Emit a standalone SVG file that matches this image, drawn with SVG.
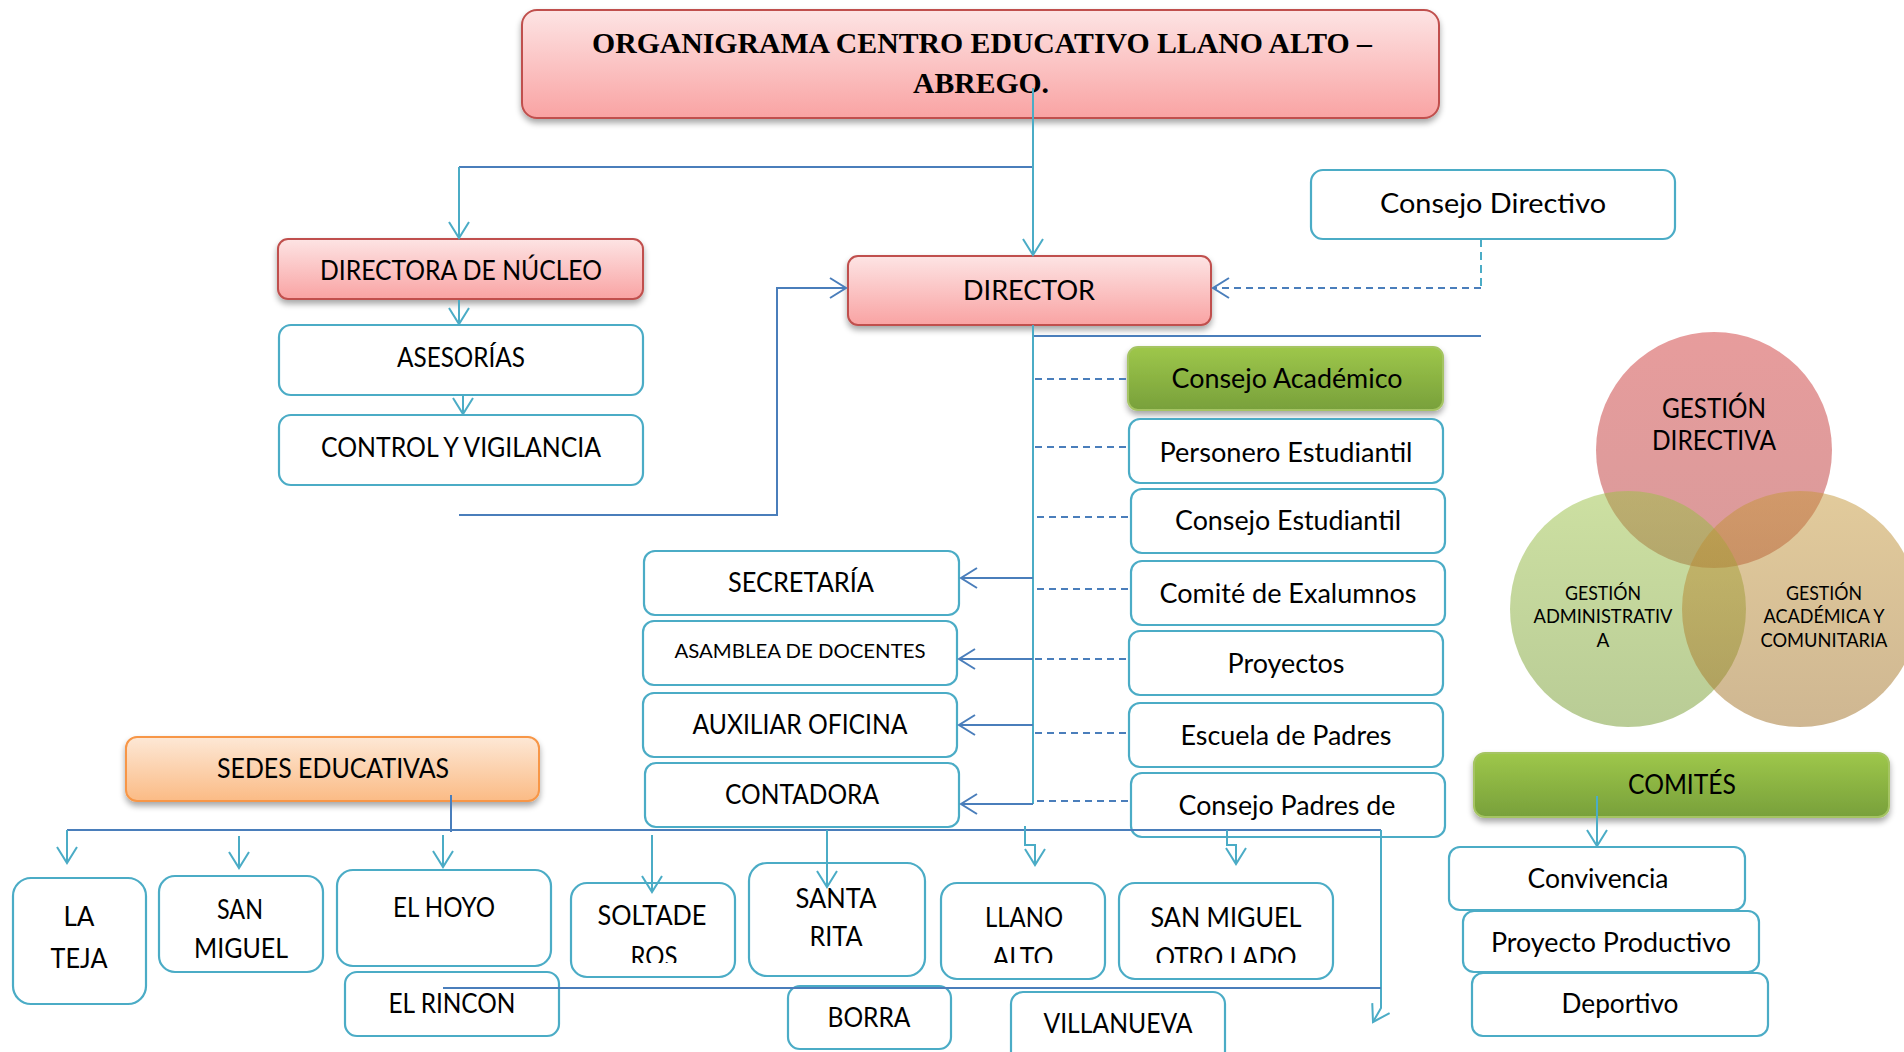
<svg xmlns="http://www.w3.org/2000/svg" width="1904" height="1052" viewBox="0 0 1904 1052">
<defs>
<style>
.t{font-family:Lato,"Open Sans","Liberation Sans",sans-serif;font-size:26px;fill:#000;text-anchor:middle}
.s{font-size:20px}
.v{font-size:19px}
.w{fill:#fff;stroke:#4bacc6;stroke-width:2.2}
.p{fill:url(#gp);stroke:#c0504d;stroke-width:2}
.g{fill:url(#gg);stroke:#a5c463;stroke-width:2}
.o{fill:url(#go);stroke:#f79646;stroke-width:2}
.lb{fill:none;stroke:#4bacc6;stroke-width:2}
.db{fill:none;stroke:#4a7ebb;stroke-width:2}
.ds{fill:none;stroke:#4a7ebb;stroke-width:2;stroke-dasharray:7 5}
.dl{fill:none;stroke:#4bacc6;stroke-width:2;stroke-dasharray:8 5}
</style>
<linearGradient id="gp" x1="0" y1="0" x2="0" y2="1"><stop offset="0" stop-color="#fde4e4"/><stop offset="1" stop-color="#f9a3a3"/></linearGradient>
<linearGradient id="gg" x1="0" y1="0" x2="0" y2="1"><stop offset="0" stop-color="#9ec74a"/><stop offset="1" stop-color="#78a03b"/></linearGradient>
<linearGradient id="go" x1="0" y1="0" x2="0" y2="1"><stop offset="0" stop-color="#fde8d6"/><stop offset="1" stop-color="#fbbb85"/></linearGradient>
<linearGradient id="cr" x1="0" y1="0" x2="0" y2="1"><stop offset="0" stop-color="#cf3a3a"/><stop offset="1" stop-color="#b43636"/></linearGradient>
<linearGradient id="cg" x1="0" y1="0" x2="0" y2="1"><stop offset="0" stop-color="#9bc145"/><stop offset="1" stop-color="#73992d"/></linearGradient>
<linearGradient id="ct" x1="0" y1="0" x2="0" y2="1"><stop offset="0" stop-color="#c59739"/><stop offset="1" stop-color="#9f6f25"/></linearGradient>
<filter id="sh" x="-10%" y="-20%" width="120%" height="160%"><feGaussianBlur in="SourceAlpha" stdDeviation="3"/><feOffset dx="0" dy="4"/><feComponentTransfer><feFuncA type="linear" slope="0.35"/></feComponentTransfer><feMerge><feMergeNode/><feMergeNode in="SourceGraphic"/></feMerge></filter>
<marker id="al" markerUnits="userSpaceOnUse" markerWidth="24" markerHeight="26" viewBox="-20 -13 24 26" refX="0" refY="0" orient="auto" overflow="visible"><path d="M-16,-10 L0,0 L-16,10" fill="none" stroke="#4bacc6" stroke-width="2"/></marker>
<marker id="ad" markerUnits="userSpaceOnUse" markerWidth="24" markerHeight="26" viewBox="-20 -13 24 26" refX="0" refY="0" orient="auto" overflow="visible"><path d="M-16,-10 L0,0 L-16,10" fill="none" stroke="#4a7ebb" stroke-width="2"/></marker>
<clipPath id="cut"><rect x="0" y="0" width="1904" height="963"/></clipPath>
</defs>
<rect width="1904" height="1052" fill="#fff"/>

<g id="venn">
<circle cx="1714" cy="450" r="118" fill="url(#cr)" fill-opacity="0.5"/>
<circle cx="1628" cy="609" r="118" fill="url(#cg)" fill-opacity="0.5"/>
<circle cx="1800" cy="609" r="118" fill="url(#ct)" fill-opacity="0.5"/>
<text class="t" x="1714" y="418" textLength="104" lengthAdjust="spacingAndGlyphs">GESTIÓN</text>
<text class="t" x="1714" y="450" textLength="124" lengthAdjust="spacingAndGlyphs">DIRECTIVA</text>
<text class="t v" x="1603" y="600" textLength="76" lengthAdjust="spacingAndGlyphs">GESTIÓN</text>
<text class="t v" x="1603" y="623" textLength="139" lengthAdjust="spacingAndGlyphs">ADMINISTRATIV</text>
<text class="t v" x="1603" y="647">A</text>
<text class="t v" x="1824" y="600" textLength="76" lengthAdjust="spacingAndGlyphs">GESTIÓN</text>
<text class="t v" x="1824" y="623" textLength="121" lengthAdjust="spacingAndGlyphs">ACADÉMICA Y</text>
<text class="t v" x="1824" y="647" textLength="127" lengthAdjust="spacingAndGlyphs">COMUNITARIA</text>
</g>

<g id="nodes">
<g id="titulo"><rect class="p" x="522" y="10" width="917" height="108" rx="15" filter="url(#sh)"/>
<text x="982" y="53" font-family="'Liberation Serif','Times New Roman',serif" font-weight="bold" font-size="30" text-anchor="middle" textLength="780" lengthAdjust="spacingAndGlyphs">ORGANIGRAMA CENTRO EDUCATIVO LLANO ALTO –</text>
<text x="981" y="93" font-family="'Liberation Serif','Times New Roman',serif" font-weight="bold" font-size="30" text-anchor="middle" textLength="136" lengthAdjust="spacingAndGlyphs">ABREGO.</text></g>

<g id="directora"><rect class="p" x="278" y="239" width="365" height="60" rx="10" filter="url(#sh)"/><text class="t" x="461" y="280" textLength="282" lengthAdjust="spacingAndGlyphs">DIRECTORA DE NÚCLEO</text></g>
<g id="asesorias"><rect class="w" x="279" y="325" width="364" height="70" rx="12"/><text class="t" x="461" y="367" textLength="128" lengthAdjust="spacingAndGlyphs">ASESORÍAS</text></g>
<g id="control"><rect class="w" x="279" y="415" width="364" height="70" rx="12"/><text class="t" x="461" y="457" textLength="280" lengthAdjust="spacingAndGlyphs">CONTROL Y VIGILANCIA</text></g>

<g id="director"><rect class="p" x="848" y="256" width="363" height="69" rx="10" filter="url(#sh)"/><text class="t" x="1029" y="300" textLength="132" lengthAdjust="spacingAndGlyphs">DIRECTOR</text></g>
<g id="consejo-directivo"><rect class="w" x="1311" y="170" width="364" height="69" rx="12"/><text class="t" x="1493" y="213" textLength="226" lengthAdjust="spacingAndGlyphs">Consejo Directivo</text></g>

<g id="consejo-academico"><rect class="g" x="1128" y="347" width="315" height="63" rx="10" filter="url(#sh)"/><text class="t" x="1287" y="388" textLength="231" lengthAdjust="spacingAndGlyphs">Consejo Académico</text></g>
<g id="personero"><rect class="w" x="1129" y="419" width="314" height="64" rx="11"/><text class="t" x="1286" y="462" textLength="253" lengthAdjust="spacingAndGlyphs">Personero Estudiantil</text></g>
<g id="consejo-estudiantil"><rect class="w" x="1131" y="489" width="314" height="64" rx="11"/><text class="t" x="1288" y="530" textLength="226" lengthAdjust="spacingAndGlyphs">Consejo Estudiantil</text></g>
<g id="exalumnos"><rect class="w" x="1131" y="561" width="314" height="64" rx="11"/><text class="t" x="1288" y="603" textLength="257" lengthAdjust="spacingAndGlyphs">Comité de Exalumnos</text></g>
<g id="proyectos"><rect class="w" x="1129" y="631" width="314" height="64" rx="11"/><text class="t" x="1286" y="673" textLength="117" lengthAdjust="spacingAndGlyphs">Proyectos</text></g>
<g id="escuela-padres"><rect class="w" x="1129" y="703" width="314" height="64" rx="11"/><text class="t" x="1286" y="745" textLength="211" lengthAdjust="spacingAndGlyphs">Escuela de Padres</text></g>
<g id="consejo-padres"><rect class="w" x="1131" y="773" width="314" height="64" rx="11"/><text class="t" x="1287" y="815" textLength="217" lengthAdjust="spacingAndGlyphs">Consejo Padres de</text></g>

<g id="secretaria"><rect class="w" x="644" y="551" width="315" height="64" rx="11"/><text class="t" x="801" y="592" textLength="146" lengthAdjust="spacingAndGlyphs">SECRETARÍA</text></g>
<g id="asamblea"><rect class="w" x="643" y="621" width="314" height="64" rx="11"/><text class="t s" x="800" y="658" textLength="251" lengthAdjust="spacingAndGlyphs">ASAMBLEA DE DOCENTES</text></g>
<g id="auxiliar"><rect class="w" x="643" y="693" width="314" height="64" rx="11"/><text class="t" x="800" y="734" textLength="215" lengthAdjust="spacingAndGlyphs">AUXILIAR OFICINA</text></g>
<g id="contadora"><rect class="w" x="645" y="763" width="314" height="64" rx="11"/><text class="t" x="802" y="804" textLength="154" lengthAdjust="spacingAndGlyphs">CONTADORA</text></g>

<g id="sedes"><rect class="o" x="126" y="737" width="413" height="64" rx="11" filter="url(#sh)"/><text class="t" x="333" y="778" textLength="232" lengthAdjust="spacingAndGlyphs">SEDES EDUCATIVAS</text></g>
<g id="la-teja"><rect class="w" x="13" y="878" width="133" height="126" rx="18"/><text class="t" font-size="28" x="79" y="926" textLength="31" lengthAdjust="spacingAndGlyphs">LA</text><text class="t" font-size="28" x="79" y="968" textLength="57" lengthAdjust="spacingAndGlyphs">TEJA</text></g>
<g id="san-miguel"><rect class="w" x="159" y="876" width="164" height="96" rx="16"/><text class="t" x="240" y="919" textLength="46" lengthAdjust="spacingAndGlyphs">SAN</text><text class="t" x="241" y="958" textLength="94" lengthAdjust="spacingAndGlyphs">MIGUEL</text></g>
<g id="el-hoyo"><rect class="w" x="337" y="870" width="214" height="96" rx="16"/><text class="t" x="444" y="917" textLength="102" lengthAdjust="spacingAndGlyphs">EL HOYO</text></g>
<g id="el-rincon"><rect class="w" x="345" y="972" width="214" height="64" rx="12"/><text class="t" x="452" y="1013" textLength="127" lengthAdjust="spacingAndGlyphs">EL RINCON</text></g>
<g id="soltaderos"><rect class="w" x="571" y="883" width="164" height="94" rx="16"/><text class="t" x="652" y="925" textLength="109" lengthAdjust="spacingAndGlyphs">SOLTADE</text><text class="t" x="654" y="966" textLength="47" lengthAdjust="spacingAndGlyphs" clip-path="url(#cut)">ROS</text></g>
<g id="santa-rita"><rect class="w" x="749" y="863" width="176" height="113" rx="18"/><text class="t" x="836" y="908" textLength="81" lengthAdjust="spacingAndGlyphs">SANTA</text><text class="t" x="836" y="946" textLength="53" lengthAdjust="spacingAndGlyphs">RITA</text></g>
<g id="llano-alto"><rect class="w" x="941" y="883" width="164" height="96" rx="16"/><text class="t" x="1024" y="927" textLength="78" lengthAdjust="spacingAndGlyphs">LLANO</text><text class="t" x="1023" y="967" textLength="61" lengthAdjust="spacingAndGlyphs" clip-path="url(#cut)">ALTO</text></g>
<g id="san-miguel-otro-lado"><rect class="w" x="1119" y="883" width="214" height="96" rx="16"/><text class="t" x="1226" y="927" textLength="151" lengthAdjust="spacingAndGlyphs">SAN MIGUEL</text><text class="t" x="1226" y="967" textLength="141" lengthAdjust="spacingAndGlyphs" clip-path="url(#cut)">OTRO LADO</text></g>
<g id="borra"><rect class="w" x="788" y="986" width="163" height="63" rx="12"/><text class="t" x="869" y="1027" textLength="83" lengthAdjust="spacingAndGlyphs">BORRA</text></g>
<g id="villanueva"><rect class="w" x="1011" y="992" width="214" height="80" rx="12"/><text class="t" x="1118" y="1033" textLength="149" lengthAdjust="spacingAndGlyphs">VILLANUEVA</text></g>

<g id="comites"><rect class="g" x="1474" y="753" width="415" height="64" rx="11" filter="url(#sh)"/><text class="t" font-size="25" x="1682" y="794" textLength="108" lengthAdjust="spacingAndGlyphs">COMITÉS</text></g>
<g id="convivencia"><rect class="w" x="1449" y="847" width="296" height="63" rx="11"/><text class="t" font-size="25" x="1598" y="888" textLength="141" lengthAdjust="spacingAndGlyphs">Convivencia</text></g>
<g id="proyecto-productivo"><rect class="w" x="1463" y="911" width="296" height="61" rx="11"/><text class="t" font-size="25" x="1611" y="952" textLength="240" lengthAdjust="spacingAndGlyphs">Proyecto Productivo</text></g>
<g id="deportivo"><rect class="w" x="1472" y="973" width="296" height="63" rx="11"/><text class="t" font-size="25" x="1620" y="1013" textLength="117" lengthAdjust="spacingAndGlyphs">Deportivo</text></g>
</g>

<g id="connectors">
<path class="db" d="M459,167 H1033"/>
<path class="lb" d="M1033,88 V255" marker-end="url(#al)"/>
<path class="lb" d="M459,167 V238" marker-end="url(#al)"/>
<path class="lb" d="M459,300 V324" marker-end="url(#al)"/>
<path class="lb" d="M463,395 V414" marker-end="url(#al)"/>
<path class="db" d="M459,515 H777 V288 H846" marker-end="url(#ad)"/>
<path class="dl" d="M1481,239 V288"/>
<path class="ds" d="M1481,288 H1213" marker-end="url(#ad)"/>
<path class="db" d="M1033,336 H1481"/>
<path class="lb" d="M1033,325 V804"/>
<path class="db" d="M1033,578 H961" marker-end="url(#ad)"/>
<path class="db" d="M1033,659 H959" marker-end="url(#ad)"/>
<path class="db" d="M1033,725 H959" marker-end="url(#ad)"/>
<path class="db" d="M1033,804 H961" marker-end="url(#ad)"/>
<path class="ds" d="M1035,379 H1127"/>
<path class="ds" d="M1035,447 H1128"/>
<path class="ds" d="M1037,517 H1130"/>
<path class="ds" d="M1037,589 H1130"/>
<path class="ds" d="M1035,659 H1128"/>
<path class="ds" d="M1035,733 H1128"/>
<path class="ds" d="M1037,801 H1130"/>
<path class="db" d="M451,795 V832"/>
<path class="db" d="M67,830 H1381"/>
<path class="lb" d="M1381,830 V1008 L1373,1022" marker-end="url(#al)"/>
<path class="db" d="M443,988 H1381"/>
<path class="lb" d="M67,830 V863" marker-end="url(#al)"/>
<path class="lb" d="M239,836 V868" marker-end="url(#al)"/>
<path class="lb" d="M443,835 V867" marker-end="url(#al)"/>
<path class="lb" d="M652,835 V892" marker-end="url(#al)"/>
<path class="lb" d="M827,830 V887" marker-end="url(#al)"/>
<path class="lb" d="M1025,826 V845 H1035 V865" marker-end="url(#al)"/>
<path class="lb" d="M1227,830 V845 H1236 V864" marker-end="url(#al)"/>
<path class="lb" d="M1597,796 V846" marker-end="url(#al)"/>
</g>
</svg>
